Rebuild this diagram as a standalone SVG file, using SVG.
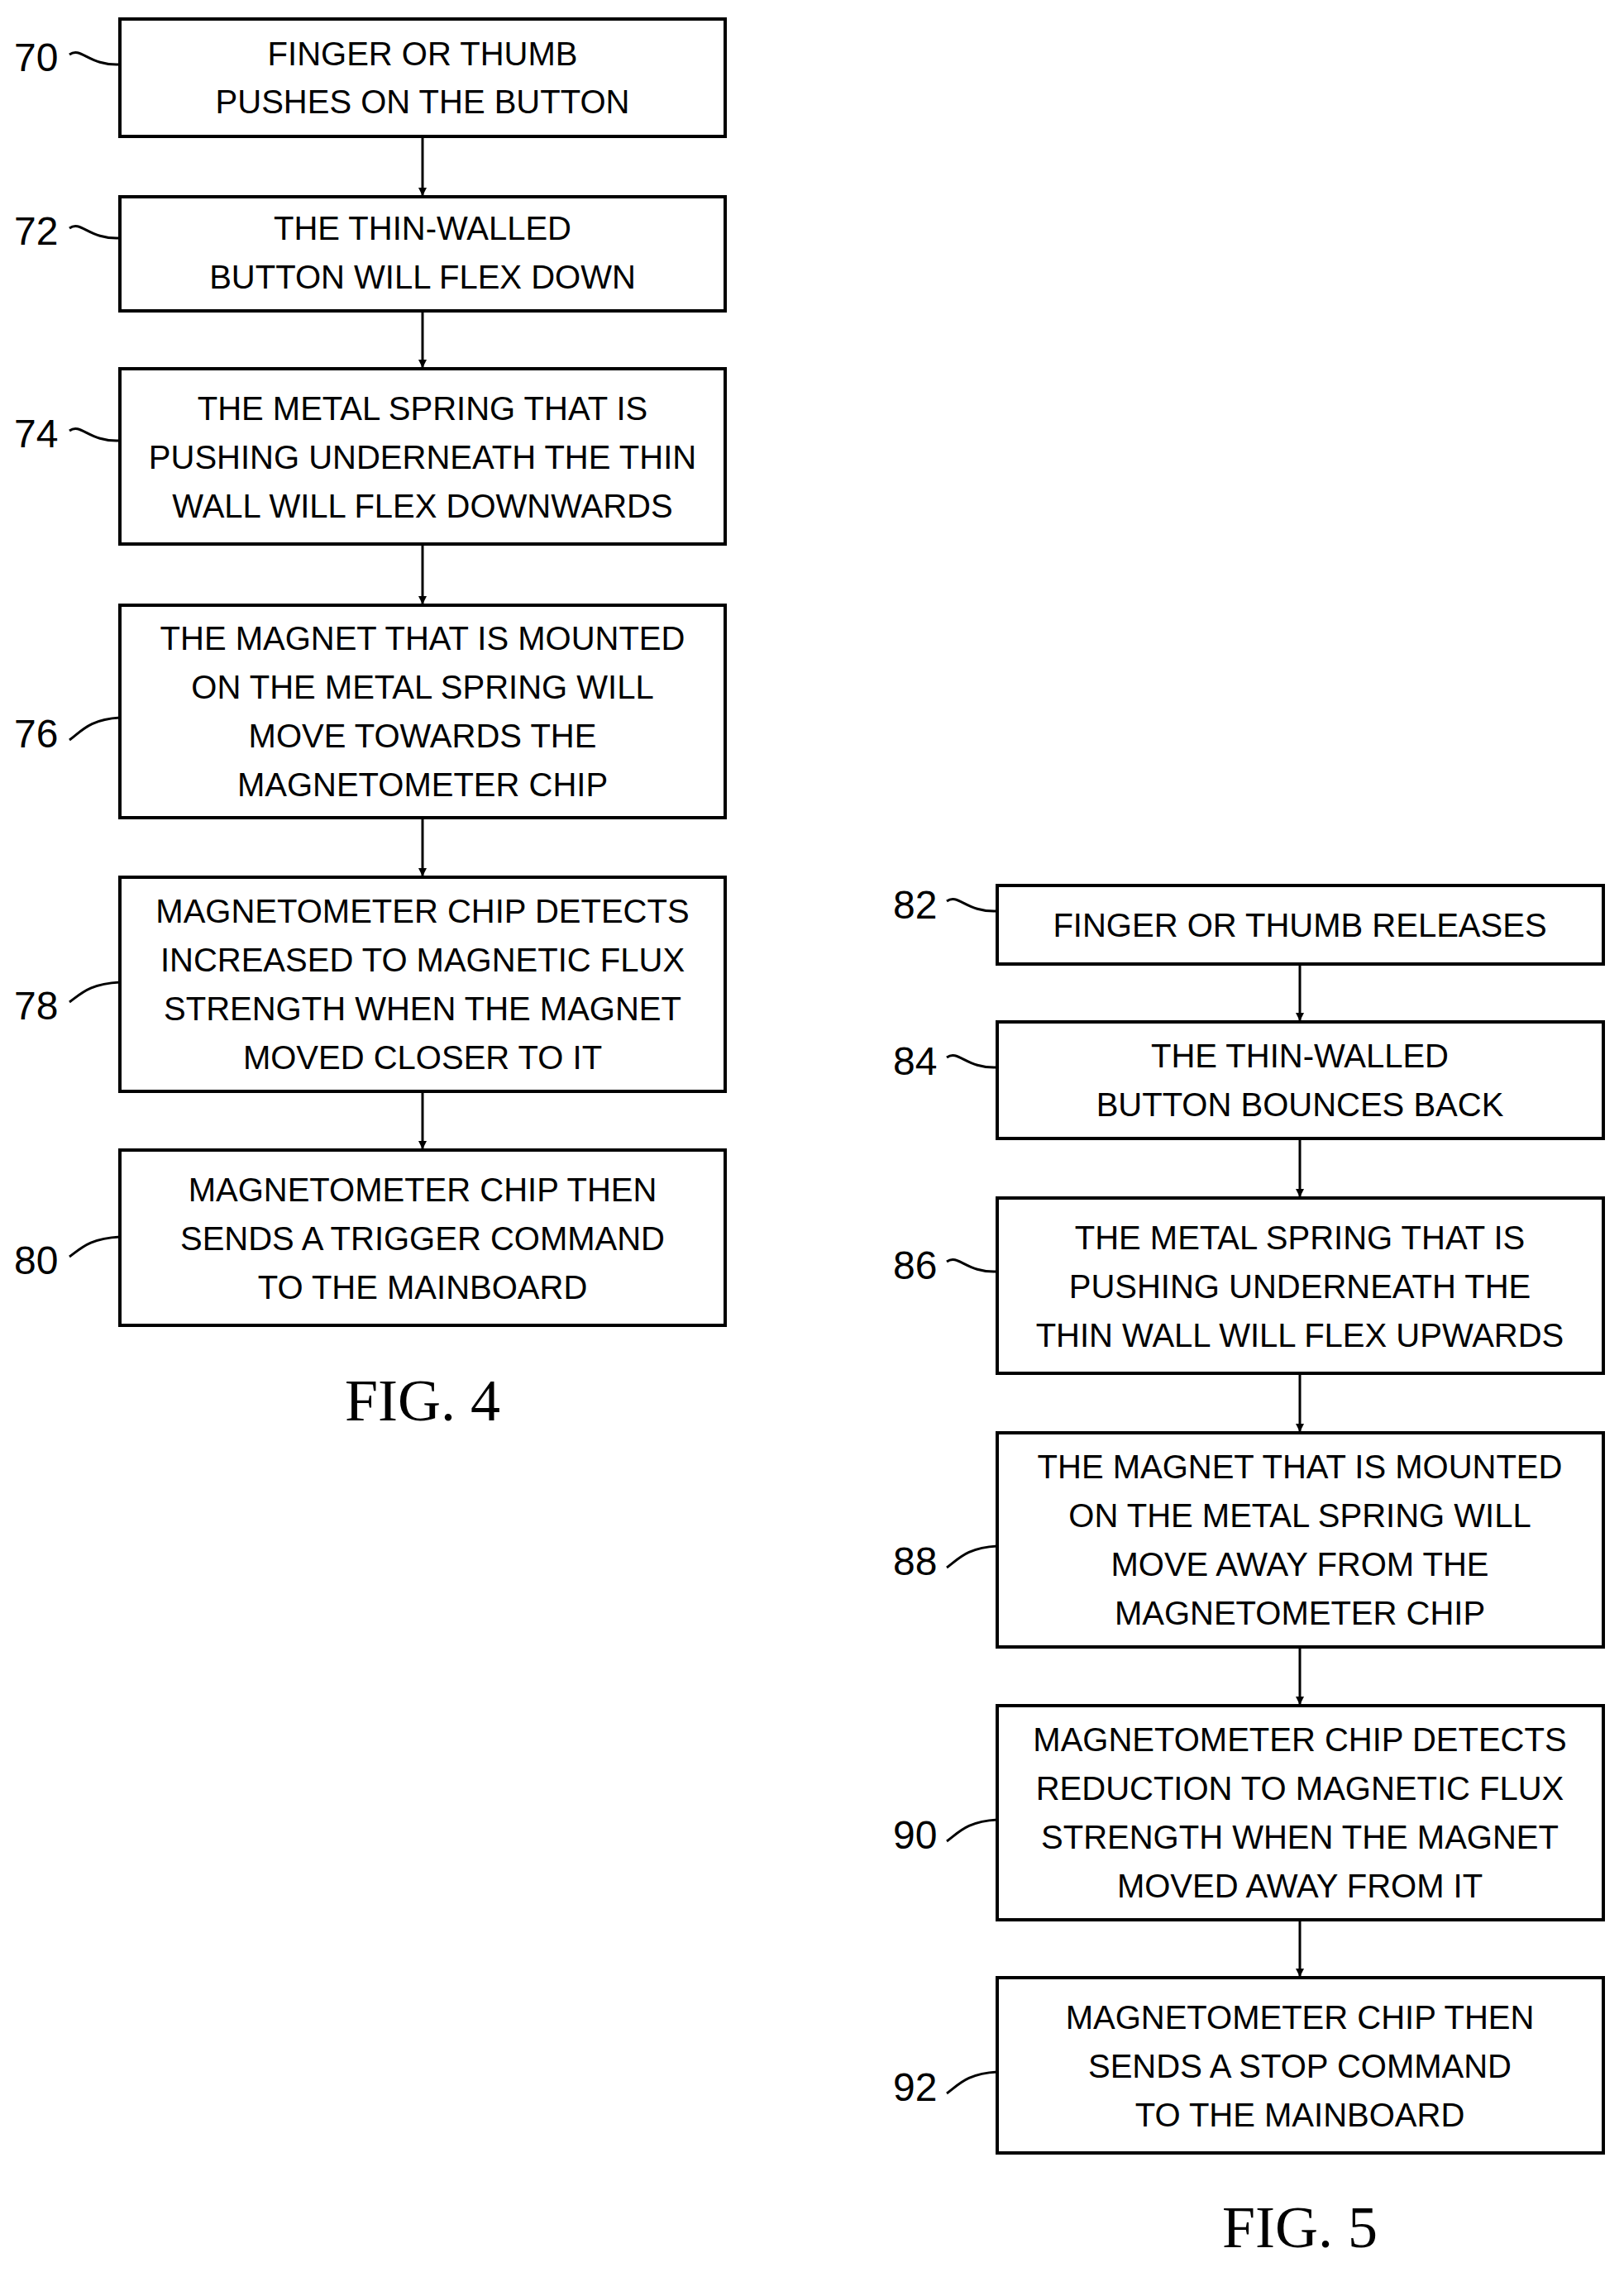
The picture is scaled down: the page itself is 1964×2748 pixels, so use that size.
<svg xmlns="http://www.w3.org/2000/svg" width="1964" height="2748" viewBox="0 0 1964 2748">
<defs><marker id="ah" markerWidth="10" markerHeight="10" refX="9" refY="5" orient="auto" markerUnits="userSpaceOnUse" viewBox="0 0 10 10"><path d="M0,0 L10,5 L0,10 z" fill="#000"/></marker>
<style>
.b{fill:#fff;stroke:#000;stroke-width:4}
.t{font-family:"Liberation Sans",Arial,sans-serif;font-size:40px;text-anchor:middle;fill:#000}
.l{font-family:"Liberation Sans",Arial,sans-serif;font-size:48px;fill:#000}
.f{font-family:"Liberation Serif","Times New Roman",serif;font-size:72px;text-anchor:middle;fill:#000}
.c{stroke:#000;stroke-width:3;fill:none}
</style></defs>
<g id="connectors">
<line class="c" x1="511" y1="165" x2="511" y2="236" marker-end="url(#ah)"/>
<line class="c" x1="511" y1="376" x2="511" y2="444" marker-end="url(#ah)"/>
<line class="c" x1="511" y1="658" x2="511" y2="730" marker-end="url(#ah)"/>
<line class="c" x1="511" y1="989" x2="511" y2="1059" marker-end="url(#ah)"/>
<line class="c" x1="511" y1="1320" x2="511" y2="1389" marker-end="url(#ah)"/>
<line class="c" x1="1572" y1="1166" x2="1572" y2="1234" marker-end="url(#ah)"/>
<line class="c" x1="1572" y1="1377" x2="1572" y2="1447" marker-end="url(#ah)"/>
<line class="c" x1="1572" y1="1661" x2="1572" y2="1731" marker-end="url(#ah)"/>
<line class="c" x1="1572" y1="1992" x2="1572" y2="2061" marker-end="url(#ah)"/>
<line class="c" x1="1572" y1="2322" x2="1572" y2="2390" marker-end="url(#ah)"/>
<path class="c" d="M84 66 C98 56,108 80,145 78"/>
<path class="c" d="M84 276 C98 266,108 290,145 288"/>
<path class="c" d="M84 521 C98 511,108 535,145 533"/>
<path class="c" d="M84 895 C98 885,108 870,145 868"/>
<path class="c" d="M84 1212 C98 1202,108 1190,145 1188"/>
<path class="c" d="M84 1520 C98 1510,108 1498,145 1496"/>
<path class="c" d="M1145 1090 C1159 1080,1169 1104,1206 1102"/>
<path class="c" d="M1145 1279 C1159 1269,1169 1293,1206 1291"/>
<path class="c" d="M1145 1526 C1159 1516,1169 1540,1206 1538"/>
<path class="c" d="M1145 1896 C1159 1886,1169 1872,1206 1870"/>
<path class="c" d="M1145 2227 C1159 2217,1169 2203,1206 2201"/>
<path class="c" d="M1145 2532 C1159 2522,1169 2508,1206 2506"/>
</g>
<g id="n70"><rect class="b" x="145" y="23" width="732" height="142"/><text class="t" x="511" y="79">FINGER OR THUMB</text><text class="t" x="511" y="137">PUSHES ON THE BUTTON</text><text class="l" x="17" y="86">70</text></g>
<g id="n72"><rect class="b" x="145" y="238" width="732" height="138"/><text class="t" x="511" y="290">THE THIN-WALLED</text><text class="t" x="511" y="349">BUTTON WILL FLEX DOWN</text><text class="l" x="17" y="296">72</text></g>
<g id="n74"><rect class="b" x="145" y="446" width="732" height="212"/><text class="t" x="511" y="508">THE METAL SPRING THAT IS</text><text class="t" x="511" y="567">PUSHING UNDERNEATH THE THIN</text><text class="t" x="511" y="626">WALL WILL FLEX DOWNWARDS</text><text class="l" x="17" y="541">74</text></g>
<g id="n76"><rect class="b" x="145" y="732" width="732" height="257"/><text class="t" x="511" y="786">THE MAGNET THAT IS MOUNTED</text><text class="t" x="511" y="845">ON THE METAL SPRING WILL</text><text class="t" x="511" y="904">MOVE TOWARDS THE</text><text class="t" x="511" y="963">MAGNETOMETER CHIP</text><text class="l" x="17" y="904">76</text></g>
<g id="n78"><rect class="b" x="145" y="1061" width="732" height="259"/><text class="t" x="511" y="1116">MAGNETOMETER CHIP DETECTS</text><text class="t" x="511" y="1175">INCREASED TO MAGNETIC FLUX</text><text class="t" x="511" y="1234">STRENGTH WHEN THE MAGNET</text><text class="t" x="511" y="1293">MOVED CLOSER TO IT</text><text class="l" x="17" y="1233">78</text></g>
<g id="n80"><rect class="b" x="145" y="1391" width="732" height="212"/><text class="t" x="511" y="1453">MAGNETOMETER CHIP THEN</text><text class="t" x="511" y="1512">SENDS A TRIGGER COMMAND</text><text class="t" x="511" y="1571">TO THE MAINBOARD</text><text class="l" x="17" y="1541">80</text></g>
<text class="f" x="511" y="1718">FIG. 4</text>
<g id="n82"><rect class="b" x="1206" y="1071" width="733" height="95"/><text class="t" x="1572" y="1133">FINGER OR THUMB RELEASES</text><text class="l" x="1080" y="1111">82</text></g>
<g id="n84"><rect class="b" x="1206" y="1236" width="733" height="141"/><text class="t" x="1572" y="1291">THE THIN-WALLED</text><text class="t" x="1572" y="1350">BUTTON BOUNCES BACK</text><text class="l" x="1080" y="1300">84</text></g>
<g id="n86"><rect class="b" x="1206" y="1449" width="733" height="212"/><text class="t" x="1572" y="1511">THE METAL SPRING THAT IS</text><text class="t" x="1572" y="1570">PUSHING UNDERNEATH THE</text><text class="t" x="1572" y="1629">THIN WALL WILL FLEX UPWARDS</text><text class="l" x="1080" y="1547">86</text></g>
<g id="n88"><rect class="b" x="1206" y="1733" width="733" height="259"/><text class="t" x="1572" y="1788">THE MAGNET THAT IS MOUNTED</text><text class="t" x="1572" y="1847">ON THE METAL SPRING WILL</text><text class="t" x="1572" y="1906">MOVE AWAY FROM THE</text><text class="t" x="1572" y="1965">MAGNETOMETER CHIP</text><text class="l" x="1080" y="1905">88</text></g>
<g id="n90"><rect class="b" x="1206" y="2063" width="733" height="259"/><text class="t" x="1572" y="2118">MAGNETOMETER CHIP DETECTS</text><text class="t" x="1572" y="2177">REDUCTION TO MAGNETIC FLUX</text><text class="t" x="1572" y="2236">STRENGTH WHEN THE MAGNET</text><text class="t" x="1572" y="2295">MOVED AWAY FROM IT</text><text class="l" x="1080" y="2236">90</text></g>
<g id="n92"><rect class="b" x="1206" y="2392" width="733" height="212"/><text class="t" x="1572" y="2454">MAGNETOMETER CHIP THEN</text><text class="t" x="1572" y="2513">SENDS A STOP COMMAND</text><text class="t" x="1572" y="2572">TO THE MAINBOARD</text><text class="l" x="1080" y="2541">92</text></g>
<text class="f" x="1572" y="2718">FIG. 5</text>
</svg>
